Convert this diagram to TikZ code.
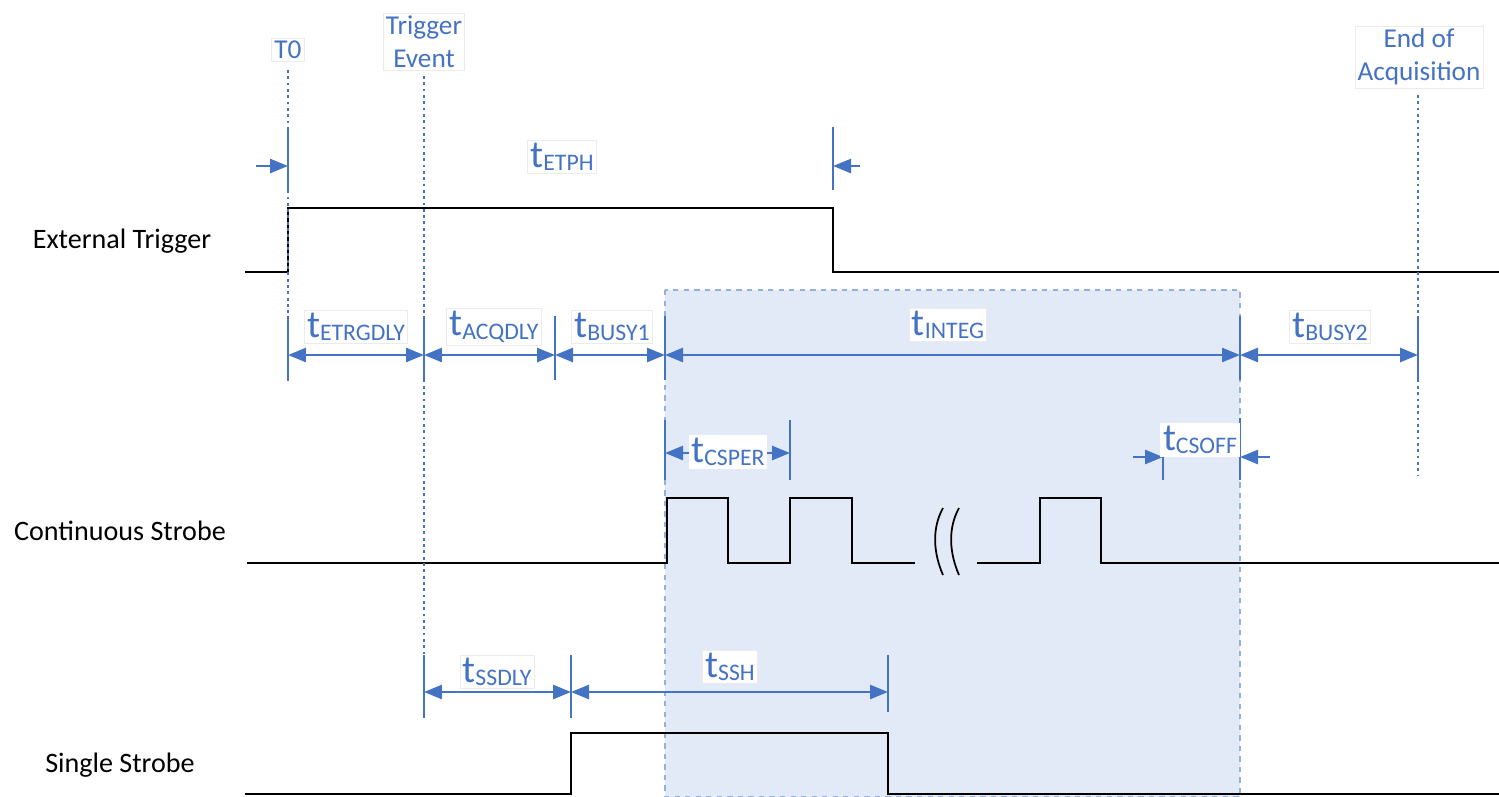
\documentclass[tikz,border=0pt]{standalone}
\usepackage{fontspec}
\setmainfont{Carlito}
\usepackage{tikz}
\usetikzlibrary{arrows.meta, positioning, calc}
\definecolor{themeblue}{RGB}{68, 114, 196}
\definecolor{shadeblue}{RGB}{227, 234, 247}
\definecolor{edgeblue}{RGB}{150, 176, 222}
\newcommand{\tsub}[1]{{\fontsize{22}{22}\selectfont t}\raisebox{-2pt}{\fontsize{13.5}{13.5}\selectfont #1}}

\begin{document}
\begin{tikzpicture}[x=0.02cm, y=-0.02cm,
  sig/.style={black, line width=1.5pt},
  tick/.style={themeblue, line width=1.6pt},
  guide/.style={themeblue, line width=1.6pt, dash pattern=on 1.6pt off 2pt},
  dim/.style={themeblue, line width=1.5pt, {Triangle[length=3.6mm, width=2.8mm]}-{Triangle[length=3.6mm, width=2.8mm]}},
  ptr/.style={themeblue, line width=1.5pt, -{Triangle[length=3.6mm, width=2.8mm]}},
  tbox/.style={fill=white, draw=black!8, inner sep=1.5pt, text=themeblue, align=center},
  signame/.style={font=\fontsize{16}{17}\selectfont, text=black}]
\useasboundingbox (0,0) rectangle (1499,796);

% integration window
\draw[fill=shadeblue, draw=edgeblue, dashed, line width=0.6pt] (665,290) rectangle (1240,797);

% signals
\draw[sig] (245,272) -- (288,272) -- (288,208) -- (833,208) -- (833,272) -- (1499,272);
\draw[sig] (247,563) -- (667,563) -- (667,498) -- (728,498) -- (728,563) -- (790,563) -- (790,498) -- (852,498) -- (852,563) -- (915,563);
\draw[sig] (977,563) -- (1040,563) -- (1040,498) -- (1101,498) -- (1101,563) -- (1499,563);
\draw[sig] (245,794) -- (571,794) -- (571,733) -- (888,733) -- (888,794) -- (1499,794);
\draw[sig, line width=1pt] (943,508) .. controls (932,528) and (933,552) .. (943,575);
\draw[sig, line width=1pt] (959,508) .. controls (948,528) and (949,552) .. (959,575);

% event lines
\draw[guide] (288,70) -- (288,380);
\draw[guide] (424,76) -- (424,718);
\draw[guide] (1418,95) -- (1418,475);

% ticks
\foreach \x in {288,424,555,665,1240,1418}
  \draw[tick] (\x,316) -- (\x,380);
\draw[tick] (288,127) -- (288,190);
\draw[tick] (833,127) -- (833,190);
\draw[tick] (665,420) -- (665,480);
\draw[tick] (790,420) -- (790,480);
\draw[tick] (1163,440) -- (1163,480);
\draw[tick] (1240,418) -- (1240,480);
\draw[tick] (424,655) -- (424,718);
\draw[tick] (571,655) -- (571,718);
\draw[tick] (888,655) -- (888,712);

% dimensions
\foreach \a/\b in {288/424, 424/555, 555/665, 665/1240, 1240/1418}
  \draw[dim] (\a,355) -- (\b,355);
\draw[ptr] (256,166) -- (288,166);
\draw[ptr] (860,166) -- (833,166);
\draw[dim] (665,453) -- (790,453);
\draw[ptr] (1133,457) -- (1163,457);
\draw[ptr] (1270,457) -- (1240,457);
\draw[dim] (424,692) -- (571,692);
\draw[dim] (571,692) -- (888,692);

% labels
\node[tbox, font=\fontsize{15.5}{19}\selectfont] (t0) at (288,50) {T0};
\node[tbox, font=\fontsize{15.5}{19}\selectfont] (trig) at (424,42) {Trigger\\Event};
\node[tbox, font=\fontsize{15.5}{19}\selectfont] (eoa) at (1419,57) {End of\\Acquisition};
\node[tbox] (etph) at (562,157) {\tsub{ETPH}};
\node[tbox] (etrgdly) at (356,327) {\tsub{ETRGDLY}};
\node[tbox] (acqdly) at (494,327) {\tsub{ACQDLY}};
\node[tbox] (busy1) at (612,327) {\tsub{BUSY1}};
\node[tbox] (integ) at (948,325) {\tsub{INTEG}};
\node[tbox] (busy2) at (1330,327) {\tsub{BUSY2}};
\node[tbox, draw=none] (csper) at (728,452) {\tsub{CSPER}};
\node[tbox, draw=none] (csoff) at (1200,440) {\tsub{CSOFF}};
\node[tbox] (ssdly) at (497,672) {\tsub{SSDLY}};
\node[tbox] (ssh) at (730,667) {\tsub{SSH}};

\node[signame] (ext) at (122,241) {External Trigger};
\node[signame] (cont) at (120,531) {Continuous Strobe};
\node[signame] (single) at (120,765) {Single Strobe};
\end{tikzpicture}
\end{document}
